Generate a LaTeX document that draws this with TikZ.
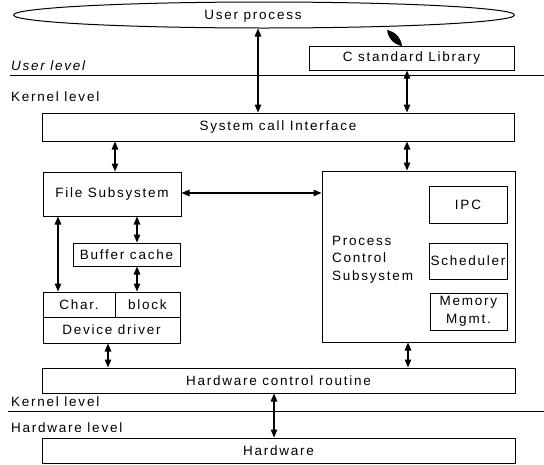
\documentclass[tikz,border=0pt]{standalone}
\usepackage{fontspec}
\setmainfont{Liberation Sans}[LetterSpace=13]
\usetikzlibrary{arrows.meta,shapes.geometric,calc}
\begin{document}
\begin{tikzpicture}[x=1pt,y=-1pt,
  txt/.style={font=\fontsize{13.5}{17.5}\selectfont},
  box/.style={draw,line width=1pt,inner sep=0pt,txt},
  arr/.style={line width=1.2pt,{Triangle[length=8pt,width=6.5pt]}-{Triangle[length=8pt,width=6.5pt]}},
  lvl/.style={line width=1pt},
  lab/.style={txt,anchor=west,inner sep=0pt}]
\useasboundingbox (0,0) rectangle (544,464);
% user process ellipse
\node[ellipse,draw,line width=1pt,minimum width=501pt,minimum height=26pt,inner sep=0pt] (up) at (264,15) {};
\node[txt,inner sep=0pt] (uptxt) at (253,16) {User process};
% boxes
\node[box,minimum width=205pt,minimum height=24pt] (clib) at (411.5,58) {C standard Library};
\node[box,minimum width=472pt,minimum height=28pt] (sci) at (278,127) {System call Interface};
\node[box,minimum width=138pt,minimum height=44pt] (fs) at (112,194) {File Subsystem};
\node[box,minimum width=107pt,minimum height=23pt] (bc) at (126.5,254.5) {Buffer cache};
\node[box,minimum width=72pt,minimum height=25pt] (chr) at (79,304.5) {Char.};
\node[box,minimum width=65pt,minimum height=25pt] (blk) at (147.5,304.5) {block};
\node[box,minimum width=137pt,minimum height=26pt] (drv) at (111.5,330) {Device driver};
\node[box,minimum width=193pt,minimum height=171pt] (pcs) at (418.5,256.5) {};
\node[txt,align=left,anchor=west,inner sep=0pt] (pcstxt) at (332,259.5) {Process\\Control\\Subsystem};
\node[box,minimum width=78pt,minimum height=37pt] (ipc) at (468,204.5) {IPC};
\node[box,minimum width=78pt,minimum height=36pt] (sch) at (468,261) {Scheduler};
\node[box,minimum width=77pt,minimum height=37pt,align=center] (mem) at (468.5,311.5) {Memory\\Mgmt.};
\node[box,minimum width=473pt,minimum height=25pt] (hcr) at (278.5,380.5) {Hardware control routine};
\node[box,minimum width=473pt,minimum height=25pt] (hw) at (278.5,450.5) {Hardware};
% level lines and labels
\coordinate (l1a) at (10,75); \coordinate (l1b) at (544,75);
\coordinate (l2a) at (8,411); \coordinate (l2b) at (544,411);
\draw[lvl] (l1a) -- (l1b);
\draw[lvl] (l2a) -- (l2b);
\node[lab,font=\fontsize{13.5}{17.5}\selectfont\itshape] (ul) at (11,66) {User level};
\node[lab] (kl1) at (11,97) {Kernel level};
\node[lab] (kl2) at (11,402) {Kernel level};
\node[lab] (hl) at (11,428) {Hardware level};
% connectors
\draw[arr] (up.south -| 258,0) -- (sci.north -| 258,0);
\coordinate (lfa) at (387,30);
\coordinate (lfb) at (402,46);
\fill (lfa) to[bend left=35] (lfb) to[bend left=35] (lfa);
\draw[arr] (clib.south -| 407,0) -- (sci.north -| 407,0);
\draw[arr] (sci.south -| 115,0) -- (fs.north -| 115,0);
\draw[arr] (sci.south -| 407,0) -- (pcs.north -| 407,0);
\draw[arr] (fs.east |- 0,193) -- (pcs.west |- 0,193);
\draw[arr] (fs.south -| 137,0) -- (bc.north -| 137,0);
\draw[arr] (bc.south -| 137,0) -- (blk.north -| 137,0);
\draw[arr] (fs.south -| 58,0) -- (chr.north -| 58,0);
\draw[arr] (drv.south -| 108,0) -- (hcr.north -| 108,0);
\draw[arr] (pcs.south -| 408,0) -- (hcr.north -| 408,0);
\draw[arr] (hcr.south -| 274,0) -- (hw.north -| 274,0);
\end{tikzpicture}
\end{document}
